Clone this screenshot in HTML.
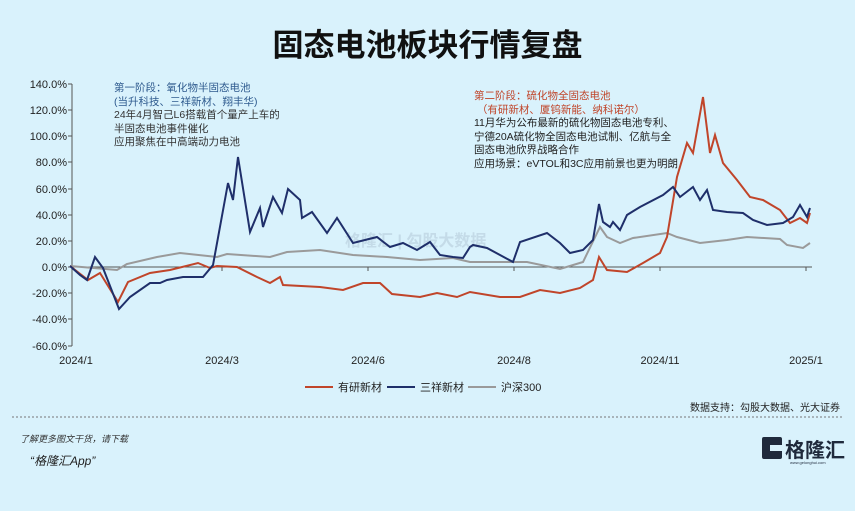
<!DOCTYPE html>
<html><head><meta charset="utf-8"><style>
body{margin:0;width:855px;height:511px;background:#d9f2fc;overflow:hidden;font-family:"Liberation Sans","Noto Sans CJK SC",sans-serif;position:relative}
.t{position:absolute;white-space:nowrap}
</style></head><body>
<div class="t" style="left:0;width:855px;top:20px;text-align:center;font-size:31px;font-weight:bold;color:#111">固态电池板块行情复盘</div>
<svg width="855" height="511" style="position:absolute;left:0;top:0" font-family="Liberation Sans, Noto Sans CJK SC, sans-serif">
<g font-size="11" fill="#222" text-anchor="end">
<text x="67" y="88">140.0%</text><text x="67" y="114">120.0%</text><text x="67" y="140">100.0%</text><text x="67" y="166">80.0%</text><text x="67" y="193">60.0%</text><text x="67" y="219">40.0%</text><text x="67" y="245">20.0%</text><text x="67" y="271">0.0%</text><text x="67" y="297">-20.0%</text><text x="67" y="323">-40.0%</text><text x="67" y="350">-60.0%</text>
</g>
<g stroke="#555" stroke-width="1">
<line x1="72" y1="84" x2="72" y2="346"/>
<line x1="68" y1="84" x2="72" y2="84"/><line x1="68" y1="110" x2="72" y2="110"/><line x1="68" y1="136" x2="72" y2="136"/><line x1="68" y1="162" x2="72" y2="162"/><line x1="68" y1="189" x2="72" y2="189"/><line x1="68" y1="215" x2="72" y2="215"/><line x1="68" y1="241" x2="72" y2="241"/><line x1="68" y1="267" x2="72" y2="267"/><line x1="68" y1="293" x2="72" y2="293"/><line x1="68" y1="319" x2="72" y2="319"/><line x1="68" y1="346" x2="72" y2="346"/>
<line x1="72" y1="267" x2="812" y2="267"/>
<line x1="222" y1="267" x2="222" y2="271"/><line x1="368" y1="267" x2="368" y2="271"/><line x1="514" y1="267" x2="514" y2="271"/><line x1="660" y1="267" x2="660" y2="271"/><line x1="806" y1="267" x2="806" y2="271"/>
</g>
<g font-size="11" fill="#222" text-anchor="middle">
<text x="76" y="364">2024/1</text><text x="222" y="364">2024/3</text><text x="368" y="364">2024/6</text><text x="514" y="364">2024/8</text><text x="660" y="364">2024/11</text><text x="806" y="364">2025/1</text>
</g>
<text x="345" y="246" font-size="16" fill="#c4dbe8" font-weight="bold">格隆汇 | 勾股大数据</text>
<polyline fill="none" stroke="#9a9a9a" stroke-width="2" points="70,266 117,270 127,264 157,257 180,253 217,257 227,254 270,257 287,252 320,250 353,255 387,257 420,260 453,258 470,262 493,262 527,262 560,269 583,262 600,227 607,237 620,243 633,238 667,233 677,237 700,243 727,240 747,237 780,239 787,245 803,248 810,243"/>
<polyline fill="none" stroke="#c0452a" stroke-width="2" points="70,266 88,280 100,273 118,302 128,282 150,273 170,270 198,263 210,268 217,266 237,267 257,277 270,283 280,277 283,285 320,287 343,290 363,283 380,283 392,294 420,297 437,293 457,297 470,292 500,297 520,297 540,290 560,293 580,288 593,280 599,257 607,270 627,272 643,263 660,253 667,237 677,177 687,143 693,153 703,97 710,153 715,135 723,163 737,180 750,197 763,200 780,210 790,223 800,218 807,223 810,213"/>
<polyline fill="none" stroke="#1f2f6a" stroke-width="2" points="70,266 80,275 87,280 95,257 103,268 119,309 130,297 150,283 160,283 167,280 183,277 203,277 213,265 228,183 233,200 238,157 250,232 260,208 263,227 273,197 282,213 288,189 300,200 302,218 312,212 327,233 337,218 353,243 377,237 390,247 403,243 417,250 430,242 440,255 453,257 463,258 470,247 473,245 487,248 513,262 520,242 547,233 560,243 570,253 583,250 593,240 599,204 603,222 610,227 613,222 620,230 627,215 640,207 663,195 673,187 680,197 693,187 700,200 707,190 713,210 727,212 743,213 753,220 767,225 783,223 793,217 800,205 807,217 810,208"/>
<g stroke-width="2"><line x1="305" y1="387" x2="333" y2="387" stroke="#c0452a"/><line x1="387" y1="387" x2="415" y2="387" stroke="#1f2f6a"/><line x1="468" y1="387" x2="496" y2="387" stroke="#9a9a9a"/></g>
<g font-size="11" fill="#222"><text x="338" y="391">有研新材</text><text x="420" y="391">三祥新材</text><text x="501" y="391">沪深300</text></g>
<line x1="12" y1="417" x2="843" y2="417" stroke="#777" stroke-dasharray="2,2"/>
<text x="840" y="411" font-size="10" fill="#222" text-anchor="end">数据支持：勾股大数据、光大证券</text>
<text x="20" y="442" font-size="9" fill="#333" font-style="italic">了解更多图文干货，请下载</text>
<text x="30" y="465" font-size="12" fill="#222" font-style="italic">“格隆汇App”</text>
<rect x="762" y="437" width="20" height="22" fill="#1f2a3c" rx="2"/>
<rect x="770" y="445" width="12" height="6" fill="#d9f2fc"/>
<text x="785" y="457" font-size="20" font-weight="bold" fill="#1f2a3c">格隆汇</text>
<text x="790" y="464" font-size="4" fill="#1f2a3c">www.gelonghui.com</text>
</svg>
<div class="t" style="left:114px;top:82px;font-size:10.5px;line-height:13.5px;color:#333">
<span style="color:#2e5a8e">第一阶段：氧化物半固态电池<br>(当升科技、三祥新材、翔丰华)</span><br>24年4月智己L6搭载首个量产上车的<br>半固态电池事件催化<br>应用聚焦在中高端动力电池</div>
<div class="t" style="left:474px;top:90px;font-size:10.5px;line-height:13.5px;color:#222">
<span style="color:#c0452a">第二阶段：硫化物全固态电池<br>&nbsp;（有研新材、厦钨新能、纳科诺尔）</span><br>11月华为公布最新的硫化物固态电池专利、<br>宁德20A硫化物全固态电池试制、亿航与全<br>固态电池欣界战略合作<br>应用场景：eVTOL和3C应用前景也更为明朗</div>
</body></html>
